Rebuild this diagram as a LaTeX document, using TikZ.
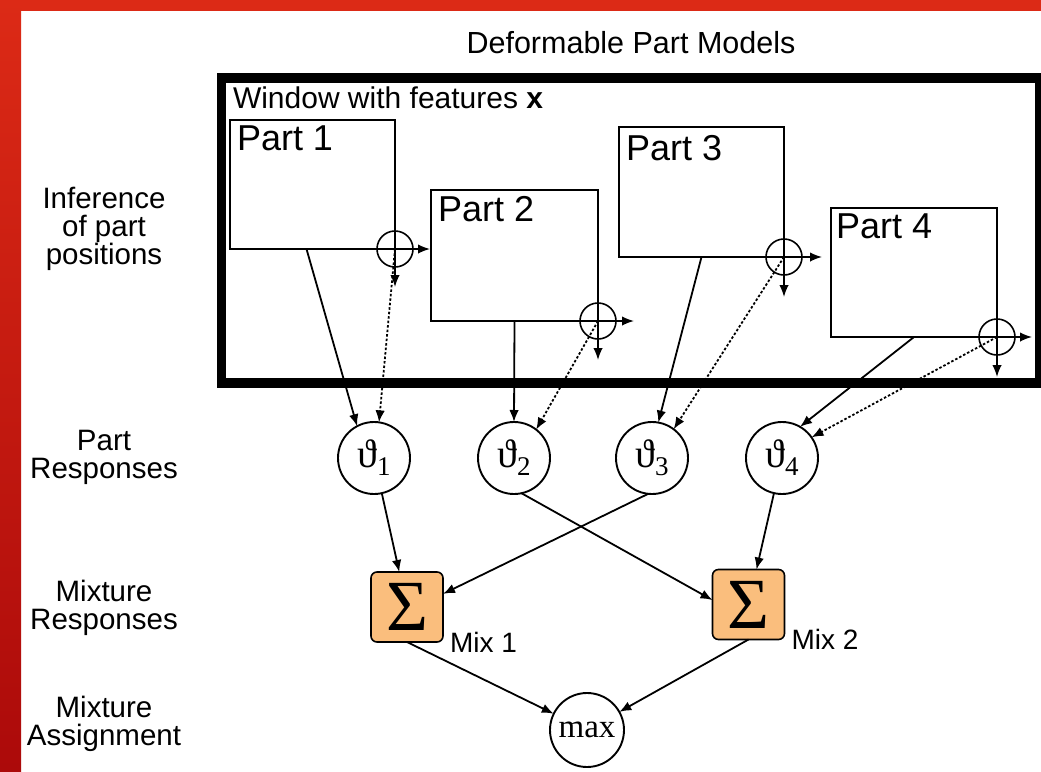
\documentclass[tikz,border=0pt]{standalone}
\usepackage[no-math]{fontspec}
\setmainfont{Liberation Sans}
\newfontfamily\serifface{Liberation Serif}
\usetikzlibrary{arrows.meta, positioning}

\definecolor{slidered}{RGB}{220,42,22}
\definecolor{slidereddark}{RGB}{172,10,10}
\definecolor{mixorange}{RGB}{250,190,125}

% response symbol with its part number
\newcommand{\partresp}[1]{{\serifface\fontsize{40}{40}\selectfont ϑ\raisebox{-8pt}{\fontsize{27}{27}\selectfont #1}}}

\begin{document}
\begin{tikzpicture}[
    x=1pt, y=-1pt,
    >={Latex[length=12pt,width=9.5pt]},
    every node/.style={inner sep=0pt, outer sep=0pt},
    rowlabel/.style={align=center, font=\fontsize{29.5}{28}\selectfont},
    window/.style={draw, line width=9.5pt, minimum width=818pt, minimum height=305pt},
    partbox/.style={draw, line width=1.6pt, minimum width=165pt, minimum height=129pt},
    partlabel/.style={anchor=base west, font=\fontsize{36}{36}\selectfont},
    oplus/.style={draw, circle, line width=1.6pt, minimum size=36pt},
    resp/.style={draw, circle, line width=1.9pt, minimum size=72pt},
    mix/.style={draw, rounded corners=6pt, fill=mixorange, line width=1.6pt, minimum width=72pt, minimum height=70pt, font={\serifface\fontsize{72}{72}\selectfont}},
    mixlabel/.style={anchor=base west, font=\fontsize{28}{28}\selectfont},
    link/.style={->, line width=1.8pt},
    offset/.style={->, line width=1.8pt, dash pattern=on 2.5pt off 2pt}
]
    \useasboundingbox (0,0) rectangle (1041,771);

    % Slide frame
    \fill[white] (0,0) rectangle (1041,771);
    \fill[slidered] (0,0) rectangle (1041,11);
    \shade[top color=slidered, bottom color=slidereddark] (0,0) rectangle (21,771);

    % Title and row labels
    \node[anchor=base, font=\fontsize{30.5}{30.5}\selectfont] (title) at (631,53) {Deformable Part Models};
    \node[rowlabel] (rowinf) at (104,228.5) {Inference\\of part\\positions};
    \node[rowlabel] (rowpart) at (104,457) {Part\\Responses};
    \node[rowlabel] (rowmix) at (104,608) {Mixture\\Responses};
    \node[rowlabel] (rowassign) at (104,724) {Mixture\\Assignment};

    % Detection window
    \node[window] (win) at (630.5,230.5) {};
    \node[anchor=base west, font=\fontsize{30}{30}\selectfont] (winlabel) at (233,108) {Window with features \textbf{x}};

    % Parts
    \node[partbox] (p1) at (312.5,184.5) {};
    \node[partlabel] (p1lab) at ([shift={(7,30)}]p1.north west) {Part 1};
    \node[partbox, minimum width=167pt, minimum height=131pt] (p2) at (514.5,255.5) {};
    \node[partlabel] (p2lab) at ([shift={(7,31)}]p2.north west) {Part 2};
    \node[partbox, minimum height=130pt] (p3) at (701.5,192) {};
    \node[partlabel] (p3lab) at ([shift={(7,33)}]p3.north west) {Part 3};
    \node[partbox, minimum width=166pt] (p4) at (914,272.5) {};
    \node[partlabel] (p4lab) at ([shift={(5,30)}]p4.north west) {Part 4};

    % Displacement at each part corner
    \node[oplus] (c1) at (p1.south east) {};
    \node[oplus] (c2) at (p2.south east) {};
    \node[oplus] (c3) at (p3.south east) {};
    \node[oplus] (c4) at (p4.south east) {};
    \coordinate (c1r) at ([xshift=35pt]c1.center);
    \coordinate (c1d) at ([yshift=-38pt]c1.center);
    \coordinate (c2r) at ([xshift=36pt]c2.center);
    \coordinate (c2d) at ([yshift=-39pt]c2.center);
    \coordinate (c3r) at ([xshift=38pt]c3.center);
    \coordinate (c3d) at ([yshift=-40pt]c3.center);
    \coordinate (c4r) at ([xshift=35pt]c4.center);
    \coordinate (c4d) at ([yshift=-40pt]c4.center);
    \draw[link, line width=1.6pt] (c1.center) -- (c1r);
    \draw[link, line width=1.6pt] (c1.center) -- (c1d);
    \draw[link, line width=1.6pt] (c2.center) -- (c2r);
    \draw[link, line width=1.6pt] (c2.center) -- (c2d);
    \draw[link, line width=1.6pt] (c3.center) -- (c3r);
    \draw[link, line width=1.6pt] (c3.center) -- (c3d);
    \draw[link, line width=1.6pt] (c4.center) -- (c4r);
    \draw[link, line width=1.6pt] (c4.center) -- (c4d);

    % Part responses
    \node[resp] (t1) at (374,458) {\partresp{1}};
    \node[resp] (t2) at (514,458) {\partresp{2}};
    \node[resp] (t3) at (652,458) {\partresp{3}};
    \node[resp] (t4) at (782,458) {\partresp{4}};

    \draw[link] ([xshift=-6pt]p1.south) -- (t1.118);
    \draw[offset] (c1.center) -- (t1.82);
    \draw[link] (p2.south) -- (t2.90);
    \draw[offset] (c2.center) -- (t2.52);
    \draw[link] (p3.south) -- (t3.80);
    \draw[offset] (c3.center) -- (t3.53);
    \draw[link] (p4.south) -- (t4.60);
    \draw[offset] (c4.center) -- (t4.35);

    % Mixture responses
    \node[mix] (s1) at (407,607) {Σ};
    \node[mix] (s2) at (748.5,604.5) {Σ};
    \node[mixlabel] (m1lab) at ([shift={(7,10)}]s1.south east) {Mix 1};
    \node[mixlabel] (m2lab) at ([shift={(7,10)}]s2.south east) {Mix 2};

    \draw[link] (t1) -- (s1);
    \draw[link] (t3.264) -- (s1.20);
    \draw[link] (t2.-78) -- (s2.173);
    \draw[link] (t4) -- (s2);

    % Mixture assignment
    \node[resp, minimum size=74pt, font={\serifface\fontsize{33}{33}\selectfont}] (mx) at (587,730) {max};
    \draw[link] (s1.south) -- (mx);
    \draw[link] (s2.south) -- (mx);
\end{tikzpicture}
\end{document}
